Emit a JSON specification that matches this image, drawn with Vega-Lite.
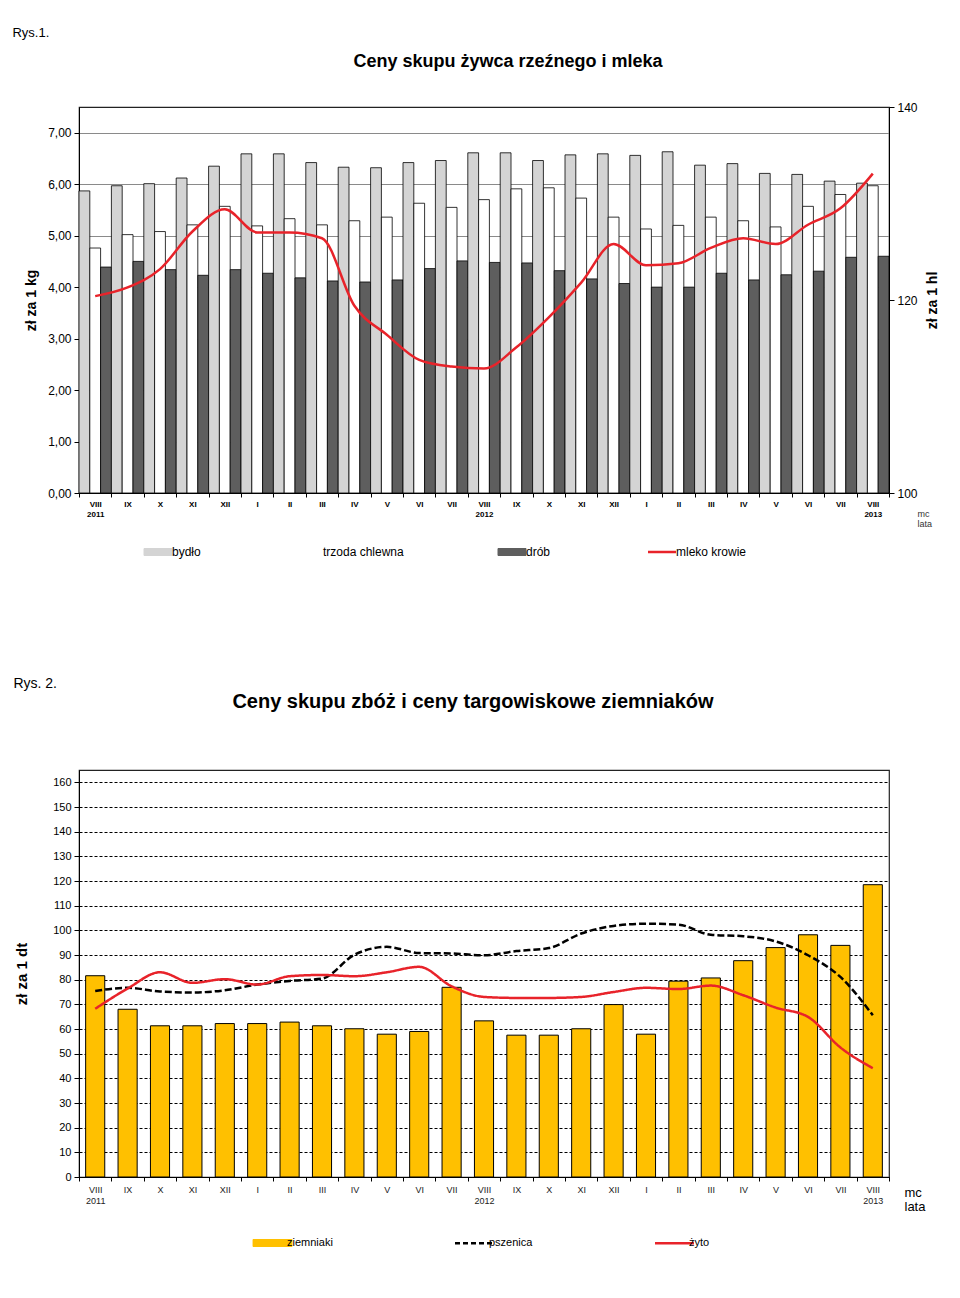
{
  "$schema": "https://vega.github.io/schema/vega-lite/v6.json",
  "background": "white",
  "padding": {"left": 12, "top": 27, "right": 0, "bottom": 0},
  "config": {
    "font": "Liberation Sans",
    "view": {"stroke": "#222", "strokeWidth": 1.2},
    "axis": {"labelColor": "#000", "tickColor": "#000", "domainColor": "#000", "titleColor": "#000"},
    "title": {"color": "#000"}
  },
  "datasets": {
    "top": [
      {"m": "VIII 2011", "bydło": 5.87, "trzoda chlewna": 4.76, "drób": 4.39, "mleko": 120.4},
      {"m": "IX 2011", "bydło": 5.97, "trzoda chlewna": 5.02, "drób": 4.50, "mleko": 121.3},
      {"m": "X 2011", "bydło": 6.01, "trzoda chlewna": 5.08, "drób": 4.34, "mleko": 123.2},
      {"m": "XI 2011", "bydło": 6.12, "trzoda chlewna": 5.21, "drób": 4.23, "mleko": 127.1},
      {"m": "XII 2011", "bydło": 6.35, "trzoda chlewna": 5.57, "drób": 4.34, "mleko": 129.4},
      {"m": "I 2012", "bydło": 6.59, "trzoda chlewna": 5.19, "drób": 4.27, "mleko": 127.0},
      {"m": "II 2012", "bydło": 6.59, "trzoda chlewna": 5.33, "drób": 4.18, "mleko": 127.0},
      {"m": "III 2012", "bydło": 6.42, "trzoda chlewna": 5.21, "drób": 4.12, "mleko": 126.4},
      {"m": "IV 2012", "bydło": 6.33, "trzoda chlewna": 5.29, "drób": 4.10, "mleko": 119.4},
      {"m": "V 2012", "bydło": 6.32, "trzoda chlewna": 5.36, "drób": 4.14, "mleko": 116.4},
      {"m": "VI 2012", "bydło": 6.42, "trzoda chlewna": 5.63, "drób": 4.36, "mleko": 113.8},
      {"m": "VII 2012", "bydło": 6.46, "trzoda chlewna": 5.55, "drób": 4.51, "mleko": 113.1},
      {"m": "VIII 2012", "bydło": 6.61, "trzoda chlewna": 5.70, "drób": 4.48, "mleko": 112.9},
      {"m": "IX 2012", "bydło": 6.61, "trzoda chlewna": 5.91, "drób": 4.47, "mleko": 115.1},
      {"m": "X 2012", "bydło": 6.46, "trzoda chlewna": 5.93, "drób": 4.32, "mleko": 118.2},
      {"m": "XI 2012", "bydło": 6.57, "trzoda chlewna": 5.73, "drób": 4.16, "mleko": 121.8},
      {"m": "XII 2012", "bydło": 6.59, "trzoda chlewna": 5.36, "drób": 4.07, "mleko": 125.8},
      {"m": "I 2013", "bydło": 6.56, "trzoda chlewna": 5.13, "drób": 4.00, "mleko": 123.6},
      {"m": "II 2013", "bydło": 6.63, "trzoda chlewna": 5.20, "drób": 4.00, "mleko": 123.8},
      {"m": "III 2013", "bydło": 6.37, "trzoda chlewna": 5.36, "drób": 4.27, "mleko": 125.4},
      {"m": "IV 2013", "bydło": 6.40, "trzoda chlewna": 5.29, "drób": 4.14, "mleko": 126.4},
      {"m": "V 2013", "bydło": 6.21, "trzoda chlewna": 5.17, "drób": 4.24, "mleko": 125.8},
      {"m": "VI 2013", "bydło": 6.19, "trzoda chlewna": 5.57, "drób": 4.31, "mleko": 127.8},
      {"m": "VII 2013", "bydło": 6.06, "trzoda chlewna": 5.80, "drób": 4.58, "mleko": 129.5},
      {"m": "VIII 2013", "bydło": 6.02, "trzoda chlewna": 5.97, "drób": 4.60, "mleko": 133.1}
    ],
    "bottom": [
      {"m": "VIII 2011", "ziemniaki": 81.6, "pszenica": 75.4, "żyto": 68.2},
      {"m": "IX 2011", "ziemniaki": 68.0, "pszenica": 76.7, "żyto": 76.4},
      {"m": "X 2011", "ziemniaki": 61.3, "pszenica": 75.2, "żyto": 83.0},
      {"m": "XI 2011", "ziemniaki": 61.3, "pszenica": 74.8, "żyto": 78.7},
      {"m": "XII 2011", "ziemniaki": 62.2, "pszenica": 75.7, "żyto": 80.2},
      {"m": "I 2012", "ziemniaki": 62.2, "pszenica": 78.0, "żyto": 78.0},
      {"m": "II 2012", "ziemniaki": 62.8, "pszenica": 79.5, "żyto": 81.4},
      {"m": "III 2012", "ziemniaki": 61.3, "pszenica": 80.4, "żyto": 81.9},
      {"m": "IV 2012", "ziemniaki": 60.1, "pszenica": 90.1, "żyto": 81.4},
      {"m": "V 2012", "ziemniaki": 57.9, "pszenica": 93.3, "żyto": 83.0},
      {"m": "VI 2012", "ziemniaki": 59.0, "pszenica": 90.8, "żyto": 85.2},
      {"m": "VII 2012", "ziemniaki": 76.9, "pszenica": 90.6, "żyto": 77.3},
      {"m": "VIII 2012", "ziemniaki": 63.3, "pszenica": 89.9, "żyto": 73.0},
      {"m": "IX 2012", "ziemniaki": 57.5, "pszenica": 91.6, "żyto": 72.6},
      {"m": "X 2012", "ziemniaki": 57.5, "pszenica": 92.8, "żyto": 72.6},
      {"m": "XI 2012", "ziemniaki": 60.1, "pszenica": 98.7, "żyto": 73.0},
      {"m": "XII 2012", "ziemniaki": 69.9, "pszenica": 101.8, "żyto": 75.0},
      {"m": "I 2013", "ziemniaki": 57.9, "pszenica": 102.7, "żyto": 76.7},
      {"m": "II 2013", "ziemniaki": 79.4, "pszenica": 102.3, "żyto": 76.2},
      {"m": "III 2013", "ziemniaki": 80.7, "pszenica": 98.2, "żyto": 77.6},
      {"m": "IV 2013", "ziemniaki": 87.7, "pszenica": 97.6, "żyto": 73.7},
      {"m": "V 2013", "ziemniaki": 93.0, "pszenica": 95.5, "żyto": 68.7},
      {"m": "VI 2013", "ziemniaki": 98.2, "pszenica": 89.9, "żyto": 64.9},
      {"m": "VII 2013", "ziemniaki": 93.9, "pszenica": 81.1, "żyto": 52.5},
      {"m": "VIII 2013", "ziemniaki": 118.5, "pszenica": 65.6, "żyto": 44.1}
    ]
  },
  "spacing": 119,
  "resolve": {"scale": {"color": "independent", "strokeDash": "independent"}, "legend": {"color": "independent", "strokeDash": "independent"}},
  "vconcat": [
    {
      "title": {"text": "Rys.1.", "anchor": "start", "fontSize": 13, "fontWeight": "normal", "dx": -11, "offset": 12},
      "vconcat": [
        {
          "width": 810,
          "height": 386,
          "title": {"text": "Ceny skupu żywca rzeźnego i mleka", "fontSize": 18, "fontWeight": "bold", "anchor": "middle", "dx": 24, "offset": 30},
          "data": {"name": "top"},
          "encoding": {
            "x": {
              "field": "m", "type": "nominal",
              "scale": {"domain": ["VIII 2011","IX 2011","X 2011","XI 2011","XII 2011","I 2012","II 2012","III 2012","IV 2012","V 2012","VI 2012","VII 2012","VIII 2012","IX 2012","X 2012","XI 2012","XII 2012","I 2013","II 2013","III 2013","IV 2013","V 2013","VI 2013","VII 2013","VIII 2013"], "paddingInner": 0, "paddingOuter": 0},
              "axis": {
                "title": ["mc", "lata"], "titleFontSize": 9, "titleFontWeight": "normal", "titleColor": "#333", "titleX": 838, "titleY": 16, "titleAlign": "left", "titleBaseline": "top", "titleLineHeight": 10,
                "labelAngle": 0, "labelFontSize": 8, "labelFontWeight": "bold", "labelLineHeight": 10, "labelPadding": 3,
                "labelExpr": "isString(datum.label) ? (indexof(datum.label, 'VIII') === 0 ? split(datum.label, ' ') : split(datum.label, ' ')[0]) : ''",
                "tickBand": "extent", "tickSize": 4
              }
            }
          },
          "layer": [
            {
              "transform": [{"fold": ["bydło", "trzoda chlewna", "drób"], "as": ["s", "v"]}],
              "mark": {"type": "bar", "stroke": "#000", "strokeWidth": 0.8},
              "encoding": {
                "xOffset": {"field": "s", "type": "nominal", "scale": {"domain": ["bydło", "trzoda chlewna", "drób"], "paddingInner": 0, "paddingOuter": 0}},
                "y": {
                  "field": "v", "type": "quantitative",
                  "scale": {"domain": [0, 7.5], "nice": false},
                  "axis": {"title": "zł za 1 kg", "titleFontSize": 14, "titleFontWeight": "bold", "titleX": -48, "titleBaseline": "middle", "values": [0,1,2,3,4,5,6,7], "labelExpr": "replace(format(datum.value, '.2f'), '.', ',')", "labelFontSize": 12, "tickSize": 5, "labelPadding": 3, "grid": true, "gridColor": "#8a8a8a", "gridWidth": 1}
                },
                "color": {
                  "field": "s", "type": "nominal",
                  "scale": {"domain": ["bydło", "trzoda chlewna", "drób", "mleko krowie"], "range": ["#d4d4d4", "#ffffff", "#5e5e5e", "#e8232a"]},
                  "legend": {
                    "title": null, "orient": "none", "legendX": 73, "legendY": 439, "direction": "horizontal", "columns": 4,
                    "symbolType": "M-1,-0.25H1V0.25H-1Z", "symbolSize": 784, "symbolStrokeColor": "#000", "symbolStrokeWidth": 1,
                    "labelFont": "Liberation Sans", "labelFontSize": 12, "labelColor": "#000", "labelOffset": 8, "columnPadding": 92, "labelLimit": 300,
                    "encode": {"symbols": {"update": {
                      "shape": {"signal": "datum.value === 'mleko krowie' ? 'stroke' : 'M-1,-0.25H1V0.25H-1Z'"},
                      "stroke": {"signal": "datum.value === 'mleko krowie' ? '#e8232a' : '#000'"},
                      "strokeWidth": {"signal": "datum.value === 'mleko krowie' ? 2.5 : 1"},
                      "strokeOpacity": {"value": 1},
                      "opacity": {"value": 1}
                    }}}
                  }
                }
              }
            },
            {
              "mark": {"type": "line", "strokeWidth": 2.5, "interpolate": "monotone"},
              "encoding": {
                "y": {
                  "field": "mleko", "type": "quantitative",
                  "scale": {"domain": [100, 140], "nice": false},
                  "axis": {"orient": "right", "title": "zł za 1 hl", "titleAngle": 270, "titleFontSize": 14, "titleFontWeight": "bold", "titleX": 43, "titleBaseline": "middle", "values": [100, 120, 140], "labelFontSize": 12, "tickSize": 5, "labelPadding": 3, "grid": false}
                },
                "color": {"datum": "mleko krowie"}
              }
            }
          ],
          "resolve": {"scale": {"y": "independent"}}
        }
      ]
    },
    {
      "title": {"text": "Rys. 2.", "anchor": "start", "fontSize": 14, "fontWeight": "normal", "offset": 0},
      "vconcat": [
        {
          "width": 810,
          "height": 407,
          "title": {"text": "Ceny skupu zbóż i ceny targowiskowe ziemniaków", "fontSize": 20, "fontWeight": "bold", "anchor": "middle", "dx": -11, "offset": 58},
          "data": {"name": "bottom"},
          "transform": [{"fold": ["ziemniaki", "pszenica", "żyto"], "as": ["s", "v"]}],
          "encoding": {
            "x": {
              "field": "m", "type": "nominal",
              "scale": {"domain": ["VIII 2011","IX 2011","X 2011","XI 2011","XII 2011","I 2012","II 2012","III 2012","IV 2012","V 2012","VI 2012","VII 2012","VIII 2012","IX 2012","X 2012","XI 2012","XII 2012","I 2013","II 2013","III 2013","IV 2013","V 2013","VI 2013","VII 2013","VIII 2013"], "paddingInner": 0, "paddingOuter": 0},
              "axis": {
                "title": ["mc", "lata"], "titleFontSize": 13, "titleFontWeight": "normal", "titleX": 825, "titleY": 9, "titleAlign": "left", "titleBaseline": "top", "titleLineHeight": 14,
                "labelAngle": 0, "labelFontSize": 9, "labelColor": "#222", "labelLineHeight": 11, "labelPadding": 4,
                "labelExpr": "isString(datum.label) ? (indexof(datum.label, 'VIII') === 0 ? split(datum.label, ' ') : split(datum.label, ' ')[0]) : ''",
                "tickBand": "extent", "tickSize": 4
              }
            },
            "y": {
              "field": "v", "type": "quantitative",
              "scale": {"domain": [0, 165], "nice": false},
              "axis": {"title": "zł za 1 dt", "titleFontSize": 15, "titleFontWeight": "bold", "titleX": -58, "titleBaseline": "middle", "values": [0,10,20,30,40,50,60,70,80,90,100,110,120,130,140,150,160], "labelFontSize": 11, "tickSize": 5, "labelPadding": 3, "grid": true, "gridColor": "#000", "gridDash": [3, 2], "gridWidth": 1}
            },
            "color": {
              "field": "s", "type": "nominal",
              "scale": {"domain": ["ziemniaki", "pszenica", "żyto"], "range": ["#ffc000", "#000000", "#e8232a"]},
              "legend": {
                "title": null, "orient": "none", "legendX": 188, "legendY": 467, "direction": "horizontal", "columns": 3,
                "symbolType": "M-1,-0.18H1V0.18H-1Z", "symbolSize": 1521, "symbolStrokeColor": "#000", "symbolStrokeWidth": 1,
                "labelFontSize": 11, "labelColor": "#000", "labelOffset": 9, "columnPadding": 117, "labelLimit": 300,
                "encode": {"symbols": {"update": {
                  "shape": {"signal": "datum.value === 'ziemniaki' ? 'M-1,-0.18H1V0.18H-1Z' : 'stroke'"},
                  "stroke": {"signal": "datum.value === 'żyto' ? '#e8232a' : '#000'"},
                  "strokeWidth": {"signal": "datum.value === 'ziemniaki' ? 1 : 2.5"},
                  "strokeDash": {"signal": "datum.value === 'pszenica' ? [5, 3] : [1, 0]"},
                  "strokeOpacity": {"value": 1},
                  "opacity": {"value": 1}
                }}}
              }
            }
          },
          "layer": [
            {
              "transform": [{"filter": "datum.s === 'ziemniaki'"}],
              "mark": {"type": "bar", "stroke": "#000", "strokeWidth": 1, "width": {"band": 0.59}}
            },
            {
              "transform": [{"filter": "datum.s !== 'ziemniaki'"}],
              "mark": {"type": "line", "strokeWidth": 2.5, "interpolate": "monotone"},
              "encoding": {
                "strokeDash": {"field": "s", "type": "nominal", "scale": {"domain": ["pszenica", "żyto"], "range": [[7, 3], [1, 0]]}, "legend": null}
              }
            }
          ]
        }
      ]
    }
  ]
}
